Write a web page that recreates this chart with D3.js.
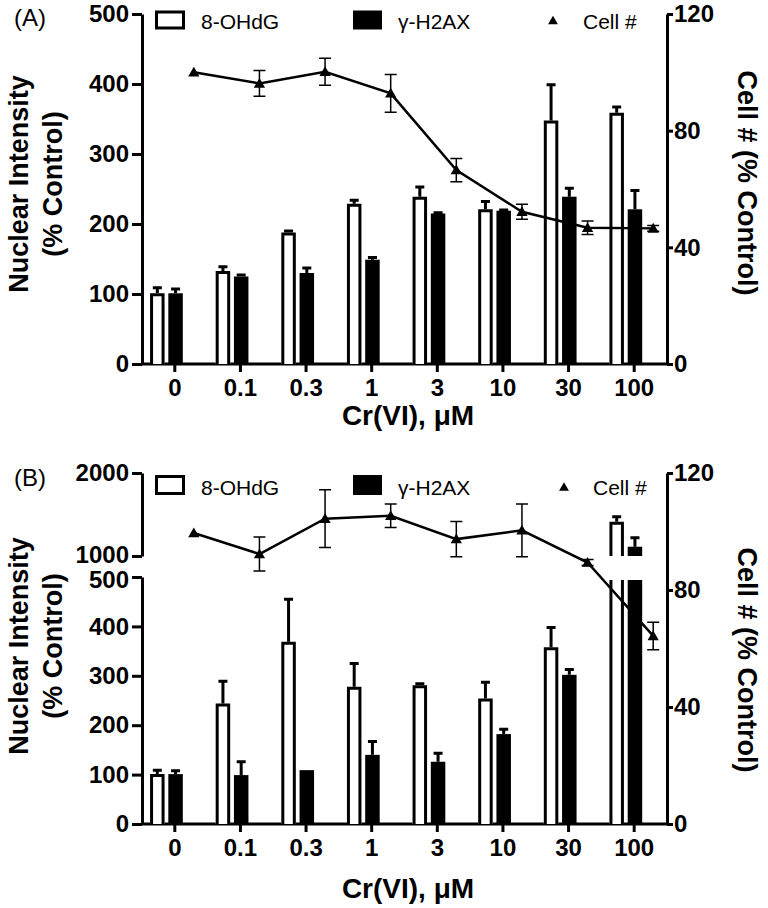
<!DOCTYPE html>
<html><head><meta charset="utf-8">
<script src="https://cdn.jsdelivr.net/npm/d3@7"></script>
<style>
body{margin:0;background:#fff;}
text{font-family:"Liberation Sans",Arial,Helvetica,sans-serif;fill:#000;}
</style>
</head><body>
<svg id="chart" width="768" height="908"></svg>
<script>
// ---------- data ----------
const categories = ["0","0.1","0.3","1","3","10","30","100"];

const leftTicksA = [0,100,200,300,400,500];
const leftTicksBLow = [0,100,200,300,400,500];
const leftTicksBHigh = [1000,2000];
const rightTicks = [0,40,80,120];

const seriesNames = ["8-OHdG","γ-H2AX","Cell #"];

const A_ohdg    = [101,133,188,229,239,221,348,359];
const A_ohdgErr = [8,6,2,5,14,11,51,8];
const A_h2ax    = [101,125,130,149,215,219,239,221];
const A_h2axErr = [6,2,7,3,1,1,12,27];
const A_cell    = [100,96.2,100.2,92.8,66.5,52.2,46.7,46.5];
const A_cellErr = [0,4.4,4.6,6.5,4,2.6,2.3,1];

const B_ohdg    = [101,244,369,278,281,254,358,1413];
const B_ohdgErr = [8,45,86,47,3,33,40,60];
const B_h2ax    = [101,99,109,140,126,182,302,1112];
const B_h2axErr = [7,27,0,27,17,10,11,108];
const B_cell    = [99.5,92.3,104.4,105.4,97.4,100.4,89.4,64.3];
const B_cellErr = [0,5.8,9.9,4,6,9,1,4.7];

// ---------- layout ----------
const svg = d3.select("#chart");
const XL = 142, XR = 667;
const x = d3.scaleBand().domain(categories).range([XL, XR]).padding(0);
const cx = c => x(c) + x.bandwidth()/2;
const OFF_W = -17.5, OFF_B = 0.75, OFF_T = 19, BW = 14.5;
const FONT = '"Liberation Sans",Arial,Helvetica,sans-serif';

function styleAxis(g, size){
  g.selectAll(".domain").attr("stroke","#000").attr("stroke-width",3);
  g.selectAll(".tick line").attr("stroke","#000").attr("stroke-width",3);
  g.selectAll(".tick text").attr("font-family",FONT).attr("font-weight","bold")
    .attr("font-size",size).attr("fill","#000");
}

function drawPanel(p){
  const g = svg.append("g");
  const segs = p.segs;
  const segFor = v => segs.find(s => v >= s.lo && v <= s.hi) || segs[segs.length-1];

  // left axis segments
  segs.forEach(s=>{
    const ax = g.append("g").attr("transform",`translate(${XL},0)`)
      .call(d3.axisLeft(s.scale).tickValues(s.ticks).tickSize(10).tickSizeOuter(0).tickPadding(3)
        .tickFormat(d3.format("d")));
    styleAxis(ax, 24);
    if (s.labelShift) ax.selectAll(".tick text").attr("dy", d => s.labelShift(d));
  });
  // right axis
  const ar = g.append("g").attr("transform",`translate(${XR},0)`)
    .call(d3.axisRight(p.yR).tickValues(rightTicks).tickSize(6).tickSizeOuter(0).tickPadding(1));
  styleAxis(ar, 24);
  // bottom axis
  const y0 = segs[0].scale(0);
  const ab = g.append("g").attr("transform",`translate(0,${y0})`)
    .call(d3.axisBottom(x).tickSize(8).tickSizeOuter(0).tickPadding(7));
  styleAxis(ab, 24);
  ab.select(".domain").attr("d",`M${XL},0H${XR}`);

  // bars
  function bar(xc, v, err, filled){
    segs.forEach(s=>{
      if (v <= s.lo) return;
      const top = Math.min(v, s.hi);
      const brokenTop = v > s.hi;
      let yb = s.scale(s.lo), yt = s.scale(top);
      if (brokenTop) yt += 3;
      const l = xc - BW/2, r = xc + BW/2;
      if (filled){
        g.append("rect").attr("x",l).attr("y",yt).attr("width",BW).attr("height",yb-yt).attr("fill","#000");
      } else {
        g.append("rect").attr("x",l).attr("y",yt).attr("width",BW).attr("height",yb-yt).attr("fill","#fff");
        const li = l+1.5, ri = r-1.5, ti = yt+1.5;
        const d = brokenTop ? `M${li},${yb}V${yt}M${ri},${yt}V${yb}` : `M${li},${yb}V${ti}H${ri}V${yb}`;
        g.append("path").attr("d",d).attr("fill","none").attr("stroke","#000").attr("stroke-width",3);
      }
    });
    if (err > 0){
      const s = segFor(v);
      const ya = s.scale(v), yb2 = s.scale(v+err);
      g.append("path").attr("d",`M${xc},${ya}V${yb2}M${xc-4.5},${yb2}H${xc+4.5}`)
        .attr("stroke","#000").attr("stroke-width",3).attr("fill","none");
    }
  }
  categories.forEach((c,i)=>{
    bar(cx(c)+OFF_W, p.ohdg[i], p.ohdgErr[i], false);
    bar(cx(c)+OFF_B, p.h2ax[i], p.h2axErr[i], true);
  });

  // cell # line
  const pts = categories.map((c,i)=>({x:cx(c)+OFF_T, v:p.cell[i], e:p.cellErr[i]}));
  g.append("path").datum(pts)
    .attr("d", d3.line().x(d=>d.x).y(d=>p.yR(d.v)))
    .attr("fill","none").attr("stroke","#000").attr("stroke-width",2.5);
  pts.forEach(d=>{
    if (d.e > 0){
      const yt = p.yR(d.v+d.e), yb = p.yR(d.v-d.e);
      g.append("path").attr("d",`M${d.x},${yt}V${yb}M${d.x-6},${yt}H${d.x+6}M${d.x-6},${yb}H${d.x+6}`)
        .attr("stroke","#000").attr("stroke-width",1.5).attr("fill","none");
    }
  });
  g.selectAll(null).data(pts).enter().append("path")
    .attr("d", d3.symbol().type(d3.symbolTriangle).size(55))
    .attr("transform", d=>`translate(${d.x},${p.yR(d.v)+1})`)
    .attr("fill","#000");

  // legend
  const L = p.legend;
  g.append("rect").attr("x",156.5).attr("y",L.ry+1.5).attr("width",27).attr("height",L.rh-3)
    .attr("fill","#fff").attr("stroke","#000").attr("stroke-width",3);
  g.append("text").attr("x",201).attr("y",L.ty).attr("font-size",21).text(seriesNames[0]);
  g.append("rect").attr("x",353).attr("y",L.ry).attr("width",29).attr("height",L.rh).attr("fill","#000");
  g.append("text").attr("x",398).attr("y",L.ty).attr("font-size",21).text(seriesNames[1]);
  g.append("path").attr("d", d3.symbol().type(d3.symbolTriangle).size(42))
    .attr("transform",`translate(${L.tx},${L.tyy})`).attr("fill","#000");
  g.append("text").attr("x",L.cx).attr("y",L.ty).attr("font-size",21).text(seriesNames[2]);

  // panel label
  g.append("text").attr("x",14).attr("y",p.labelY).attr("font-size",24).text(p.label);

  // axis titles
  const lt = g.append("g").attr("transform",`translate(0,${p.titleCY})`);
  lt.append("text").attr("transform","translate(18,0) rotate(-90)").attr("text-anchor","middle")
    .attr("dy","0.36em").attr("font-size",27).attr("font-weight","bold").text("Nuclear Intensity");
  lt.append("text").attr("transform","translate(52,0) rotate(-90)").attr("text-anchor","middle")
    .attr("dy","0.36em").attr("font-size",27).attr("font-weight","bold").text("(% Control)");
  g.append("text").attr("transform",`translate(748,${p.rTitleCY}) rotate(90)`).attr("text-anchor","middle")
    .attr("dy","0.36em").attr("font-size",27).attr("font-weight","bold").text("Cell # (% Control)");
  g.append("text").attr("x",408).attr("y",p.xTitleY).attr("text-anchor","middle")
    .attr("font-size",28).attr("font-weight","bold").text("Cr(VI), μM");
}

// Panel A
const yA = d3.scaleLinear().domain([0,500]).range([364,14]);
const yAR = d3.scaleLinear().domain([0,120]).range([364,14]);
drawPanel({
  segs:[{scale:yA, lo:0, hi:500, ticks:leftTicksA}],
  yR:yAR,
  ohdg:A_ohdg, ohdgErr:A_ohdgErr, h2ax:A_h2ax, h2axErr:A_h2axErr, cell:A_cell, cellErr:A_cellErr,
  legend:{ry:10.5, rh:19, ty:28.5, tx:553, tyy:21.5, cx:583},
  label:"(A)", labelY:26, titleCY:184, rTitleCY:183, xTitleY:425
});

// Panel B
const yBL = d3.scaleLinear().domain([0,500]).range([824,577]);
const yBU = d3.scaleLinear().domain([1000,2000]).range([556,473]);
const yBR = d3.scaleLinear().domain([0,120]).range([824,473]);
drawPanel({
  segs:[{scale:yBL, lo:0, hi:500, ticks:leftTicksBLow, labelShift: d => d===500 ? "0.42em" : "0.32em"},
        {scale:yBU, lo:1000, hi:2000, ticks:leftTicksBHigh, labelShift: d => d===1000 ? "0.28em" : "0.32em"}],
  yR:yBR,
  ohdg:B_ohdg, ohdgErr:B_ohdgErr, h2ax:B_h2ax, h2axErr:B_h2axErr, cell:B_cell, cellErr:B_cellErr,
  legend:{ry:475, rh:20, ty:494.5, tx:564, tyy:488, cx:593},
  label:"(B)", labelY:486, titleCY:646, rTitleCY:660, xTitleY:898
});
</script>
</body></html>
